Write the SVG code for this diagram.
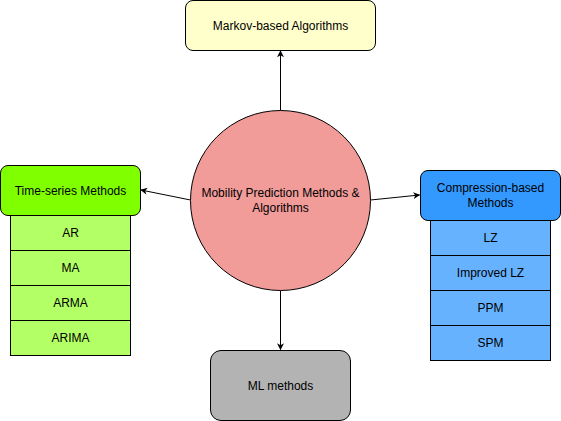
<svg xmlns="http://www.w3.org/2000/svg" width="561" height="421" viewBox="0 0 561 421">
<style>
text{font-family:"Liberation Sans",Arial,sans-serif;font-size:12px;fill:#000;text-anchor:middle;dominant-baseline:central}
.s{stroke:#000;stroke-width:1}
.c{fill:none;stroke:#000;stroke-width:1}
</style>
<defs>
<marker id="a" viewBox="0 0 10 10" refX="9" refY="5" markerWidth="7" markerHeight="7" orient="auto" markerUnits="userSpaceOnUse">
<path d="M0,0 L10,5 L0,10 L3,5 Z" fill="#000"/>
</marker>
</defs>
<rect width="561" height="421" fill="#fff"/>
<g id="connectors">
<line class="c" x1="280.5" y1="110.5" x2="280.5" y2="51" marker-end="url(#a)"/>
<line class="c" x1="280.5" y1="290.5" x2="280.5" y2="349.5" marker-end="url(#a)"/>
<line class="c" x1="190.5" y1="200" x2="141" y2="190" marker-end="url(#a)"/>
<line class="c" x1="370.5" y1="200" x2="419.5" y2="195" marker-end="url(#a)"/>
</g>
<g id="center">
<circle class="s" cx="280.5" cy="200.5" r="90" fill="#F19C99"/>
<text x="280.5" y="193">Mobility Prediction Methods &amp;</text>
<text x="280.5" y="208">Algorithms</text>
</g>
<g id="markov">
<rect class="s" x="185.5" y="0.5" width="190" height="50" rx="7.5" fill="#FFFFCC"/>
<text x="280.5" y="25.5">Markov-based Algorithms</text>
</g>
<g id="ml">
<rect class="s" x="210.5" y="350.5" width="140" height="70" rx="10.5" fill="#B3B3B3"/>
<text x="280.5" y="385.5">ML methods</text>
</g>
<g id="timeseries">
<rect class="s" x="10.5" y="215.5" width="120" height="35" fill="#B3FF66"/>
<rect class="s" x="10.5" y="250.5" width="120" height="35" fill="#B3FF66"/>
<rect class="s" x="10.5" y="285.5" width="120" height="35" fill="#B3FF66"/>
<rect class="s" x="10.5" y="320.5" width="120" height="35" fill="#B3FF66"/>
<rect class="s" x="0.5" y="165.5" width="140" height="50" rx="7.5" fill="#80FF00"/>
<text x="70.5" y="190.5">Time-series Methods</text>
<text x="70.5" y="233">AR</text>
<text x="70.5" y="268">MA</text>
<text x="70.5" y="303">ARMA</text>
<text x="70.5" y="338">ARIMA</text>
</g>
<g id="compression">
<rect class="s" x="430.5" y="220.5" width="120" height="35" fill="#66B2FF"/>
<rect class="s" x="430.5" y="255.5" width="120" height="35" fill="#66B2FF"/>
<rect class="s" x="430.5" y="290.5" width="120" height="35" fill="#66B2FF"/>
<rect class="s" x="430.5" y="325.5" width="120" height="35" fill="#66B2FF"/>
<rect class="s" x="420.5" y="170.5" width="140" height="50" rx="7.5" fill="#3399FF"/>
<text x="490.5" y="188">Compression-based</text>
<text x="490.5" y="203">Methods</text>
<text x="490.5" y="238">LZ</text>
<text x="490.5" y="273">Improved LZ</text>
<text x="490.5" y="308">PPM</text>
<text x="490.5" y="343">SPM</text>
</g>
</svg>
